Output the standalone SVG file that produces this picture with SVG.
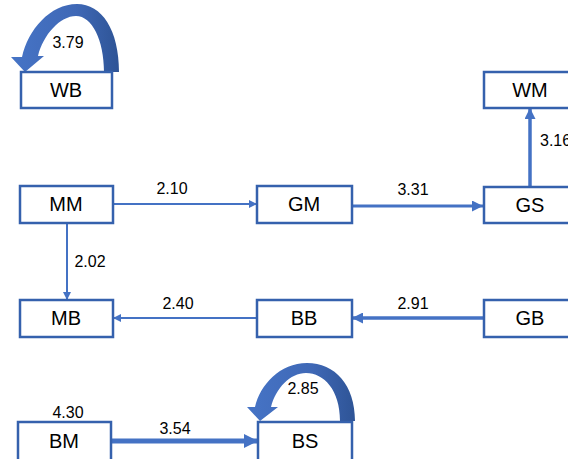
<svg xmlns="http://www.w3.org/2000/svg" width="568" height="459" viewBox="0 0 568 459">
<style>
.box rect{fill:#fff;stroke:#3561ad;stroke-width:2.5}
.box text{font-family:"Liberation Sans",Arial,sans-serif;font-size:20px;fill:#000;text-anchor:middle}
.lbl{font-family:"Liberation Sans",Arial,sans-serif;font-size:16px;fill:#000;text-anchor:middle}
.e{stroke:#4472c4;fill:none}
.loop{fill:url(#g)}
</style>
<defs>
<linearGradient id="g" x1="0" y1="0" x2="1" y2="0">
<stop offset="0" stop-color="#4674c6"/>
<stop offset="0.6" stop-color="#3f68b6"/>
<stop offset="1" stop-color="#2e5496"/>
</linearGradient>
<marker id="as" viewBox="0 0 10 10" refX="10" refY="5" markerUnits="userSpaceOnUse" markerWidth="8" markerHeight="8" orient="auto"><path d="M0,0 L10,5 L0,10 Z" fill="#4472c4"/></marker>
<marker id="am" viewBox="0 0 10 10" refX="10" refY="5" markerUnits="userSpaceOnUse" markerWidth="11" markerHeight="11" orient="auto"><path d="M0,0 L10,5 L0,10 Z" fill="#4472c4"/></marker>
<marker id="al" viewBox="0 0 10 10" refX="10" refY="5" markerUnits="userSpaceOnUse" markerWidth="14" markerHeight="15" orient="auto"><path d="M0,0 L10,5 L0,10 Z" fill="#4472c4"/></marker>
</defs>
<g id="connectors">
<line class="e" x1="113" y1="204" x2="257" y2="204" stroke-width="2" marker-end="url(#as)"/>
<line class="e" x1="67" y1="223" x2="67" y2="300" stroke-width="2" marker-end="url(#as)"/>
<line class="e" x1="257" y1="318" x2="113" y2="318" stroke-width="2" marker-end="url(#as)"/>
<line class="e" x1="352" y1="206" x2="483" y2="206" stroke-width="3" marker-end="url(#am)"/>
<line class="e" x1="483" y1="318" x2="352" y2="318" stroke-width="3.5" marker-end="url(#am)"/>
<line class="e" x1="530" y1="187" x2="530" y2="108" stroke-width="3.5" marker-end="url(#am)"/>
<line class="e" x1="111" y1="441" x2="258" y2="441" stroke-width="5" marker-end="url(#al)"/>
<path class="loop" d="M119,72 C119,30 102,4 77,4 C50,4 28,30 22,57 L11,57 L25,72 L44,56 L38,56 C43,35 60,16 76,16 C92,16 104,40 104,72 Z"/>
<path class="loop" d="M355,421 C355,385 335,363 307,363 C280,363 260,385 255,407 L247,407 L260,421 L278,407 L271,407 C276,388 290,373 306,373 C324,373 340,390 340,421 Z"/>
<text class="lbl" x="172" y="194">2.10</text>
<text class="lbl" x="413" y="195">3.31</text>
<text class="lbl" x="90" y="267">2.02</text>
<text class="lbl" x="178" y="309">2.40</text>
<text class="lbl" x="413" y="309">2.91</text>
<text class="lbl" x="540" y="146" style="text-anchor:start">3.16</text>
<text class="lbl" x="68" y="418">4.30</text>
<text class="lbl" x="175" y="434">3.54</text>
<text class="lbl" x="68" y="48">3.79</text>
<text class="lbl" x="303" y="394">2.85</text>
</g>
<g id="WB" class="box"><rect x="21" y="72" width="91" height="36"/><text x="66" y="97">WB</text></g>
<g id="WM" class="box"><rect x="484" y="72" width="93" height="36"/><text x="530" y="97">WM</text></g>
<g id="MM" class="box"><rect x="20" y="186" width="93" height="37"/><text x="66" y="211">MM</text></g>
<g id="GM" class="box"><rect x="257" y="186" width="95" height="37"/><text x="304" y="211">GM</text></g>
<g id="GS" class="box"><rect x="484" y="187" width="93" height="36"/><text x="530" y="212">GS</text></g>
<g id="MB" class="box"><rect x="20" y="300" width="93" height="37"/><text x="66" y="325">MB</text></g>
<g id="BB" class="box"><rect x="257" y="300" width="95" height="37"/><text x="304" y="325">BB</text></g>
<g id="GB" class="box"><rect x="484" y="300" width="93" height="37"/><text x="530" y="325">GB</text></g>
<g id="BM" class="box"><rect x="18" y="422" width="93" height="45"/><text x="64" y="448">BM</text></g>
<g id="BS" class="box"><rect x="258" y="422" width="94" height="45"/><text x="305" y="448">BS</text></g>
</svg>
